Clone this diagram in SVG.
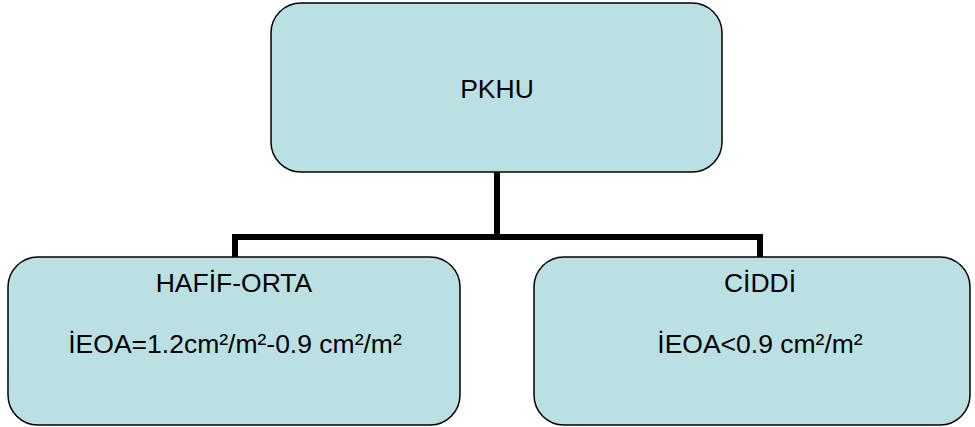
<svg xmlns="http://www.w3.org/2000/svg" width="975" height="427" viewBox="0 0 975 427">
  <style>
    .box { fill: #bae0e3; stroke: #000; stroke-width: 1.5; }
    .lbl { font-family: "Liberation Sans", Arial, sans-serif; font-size: 26.5px; fill: #000; text-anchor: middle; }
    .wire { fill: none; stroke: #000; stroke-width: 6; stroke-linecap: butt; stroke-linejoin: miter; }
  </style>
  <rect x="0" y="0" width="975" height="427" fill="#fff"/>

  <!-- tree connectors -->
  <g id="connectors">
    <path class="wire" d="M497 172 V237"/>
    <path class="wire" d="M235 257 V237 H760 V257"/>
  </g>

  <g id="node-pkhu">
    <rect class="box" x="271" y="3" width="451" height="169" rx="30" ry="30"/>
    <text class="lbl" x="497" y="98">PKHU</text>
  </g>

  <g id="node-hafif-orta">
    <rect class="box" x="8" y="257" width="452" height="168" rx="30" ry="30"/>
    <text class="lbl" x="234" y="292">HAFİF-ORTA</text>
    <text class="lbl" x="235" y="353">İEOA=1.2cm²/m²-0.9 cm²/m²</text>
  </g>

  <g id="node-ciddi">
    <rect class="box" x="534" y="257" width="436" height="168" rx="30" ry="30"/>
    <text class="lbl" x="760" y="292">CİDDİ</text>
    <text class="lbl" x="760" y="353">İEOA&lt;0.9 cm²/m²</text>
  </g>
</svg>
